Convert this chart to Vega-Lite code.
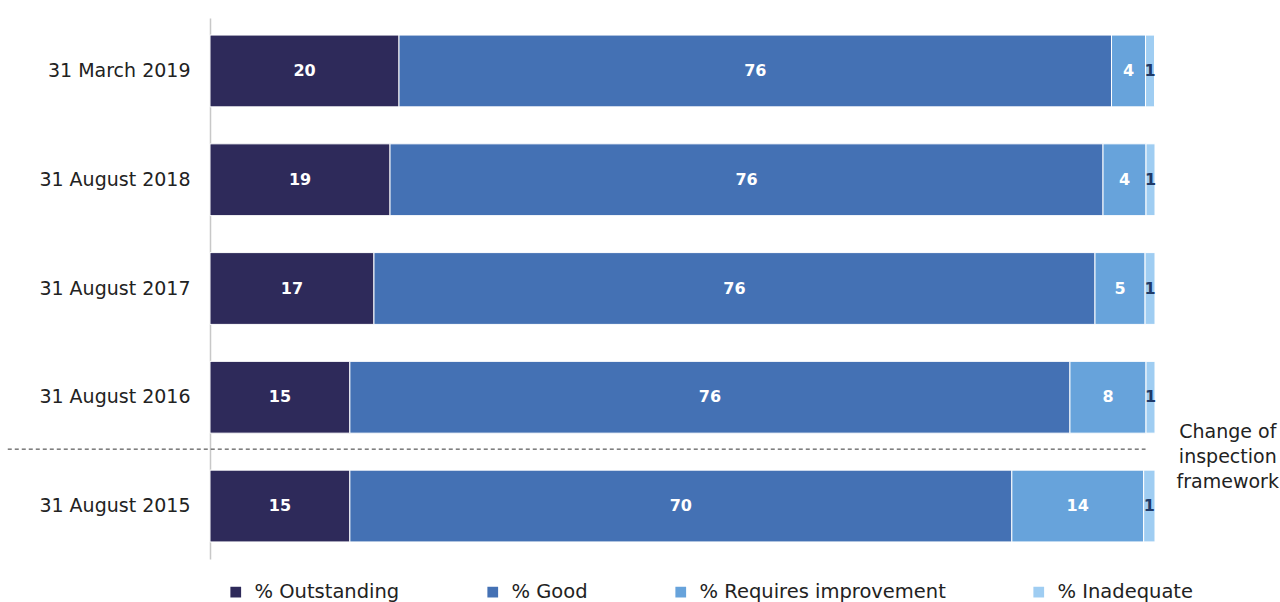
{
  "$schema": "https://vega.github.io/schema/vega-lite/v6.json",
  "width": 945,
  "height": 541,
  "autosize": {"type": "none"},
  "padding": {"left": 210, "top": 18, "right": 125, "bottom": 43},
  "background": "white",
  "config": {
    "view": {"stroke": null},
    "font": "DejaVu Sans"
  },
  "datasets": {
    "bars": [
      {"date": "31 March 2019", "rating": "% Outstanding", "idx": 1, "value": 20.0, "label": "20"},
      {"date": "31 March 2019", "rating": "% Good", "idx": 2, "value": 75.4, "label": "76"},
      {"date": "31 March 2019", "rating": "% Requires improvement", "idx": 3, "value": 3.6, "label": "4"},
      {"date": "31 March 2019", "rating": "% Inadequate", "idx": 4, "value": 0.95, "label": "1"},
      {"date": "31 August 2018", "rating": "% Outstanding", "idx": 1, "value": 19.05, "label": "19"},
      {"date": "31 August 2018", "rating": "% Good", "idx": 2, "value": 75.45, "label": "76"},
      {"date": "31 August 2018", "rating": "% Requires improvement", "idx": 3, "value": 4.55, "label": "4"},
      {"date": "31 August 2018", "rating": "% Inadequate", "idx": 4, "value": 0.95, "label": "1"},
      {"date": "31 August 2017", "rating": "% Outstanding", "idx": 1, "value": 17.35, "label": "17"},
      {"date": "31 August 2017", "rating": "% Good", "idx": 2, "value": 76.3, "label": "76"},
      {"date": "31 August 2017", "rating": "% Requires improvement", "idx": 3, "value": 5.3, "label": "5"},
      {"date": "31 August 2017", "rating": "% Inadequate", "idx": 4, "value": 1.05, "label": "1"},
      {"date": "31 August 2016", "rating": "% Outstanding", "idx": 1, "value": 14.8, "label": "15"},
      {"date": "31 August 2016", "rating": "% Good", "idx": 2, "value": 76.2, "label": "76"},
      {"date": "31 August 2016", "rating": "% Requires improvement", "idx": 3, "value": 8.05, "label": "8"},
      {"date": "31 August 2016", "rating": "% Inadequate", "idx": 4, "value": 0.95, "label": "1"},
      {"date": "31 August 2015", "rating": "% Outstanding", "idx": 1, "value": 14.8, "label": "15"},
      {"date": "31 August 2015", "rating": "% Good", "idx": 2, "value": 70.05, "label": "70"},
      {"date": "31 August 2015", "rating": "% Requires improvement", "idx": 3, "value": 13.95, "label": "14"},
      {"date": "31 August 2015", "rating": "% Inadequate", "idx": 4, "value": 1.2, "label": "1"}
    ],
    "divider": [
      {"date": "31 August 2015", "start": -21.4, "end": 99.0}
    ],
    "note": [
      {"date": "31 August 2015", "pos": 107.7, "text": "Change of\ninspection\nframework"}
    ]
  },
  "layer": [
    {
      "data": {"name": "bars"},
      "mark": {"type": "bar", "stroke": "white", "strokeWidth": 1},
      "encoding": {
        "y": {
          "field": "date", "type": "nominal",
          "sort": ["31 March 2019", "31 August 2018", "31 August 2017", "31 August 2016", "31 August 2015"],
          "scale": {"paddingInner": 0.34, "paddingOuter": 0.157},
          "axis": {
            "title": null, "ticks": false, "domainColor": "#c8c8c8", "domainWidth": 1.5,
            "labelFontSize": 19, "labelColor": "#222222", "labelPadding": 20, "labelFont": "DejaVu Sans"
          }
        },
        "x": {
          "field": "value", "type": "quantitative", "stack": "zero",
          "scale": {"domain": [0, 100], "nice": false},
          "axis": null
        },
        "order": {"field": "idx", "type": "quantitative"},
        "color": {
          "field": "rating", "type": "nominal",
          "scale": {
            "domain": ["% Outstanding", "% Good", "% Requires improvement", "% Inadequate"],
            "range": ["#2e2a5a", "#4471b4", "#67a3db", "#9fcdf2"]
          },
          "legend": {
            "title": null, "orient": "none", "direction": "horizontal", "columns": 4,
            "legendX": 16, "legendY": 564,
            "symbolType": "square", "symbolSize": 115, "symbolStrokeWidth": 0,
            "labelFontSize": 19.5, "labelColor": "#222222", "labelFont": "DejaVu Sans",
            "columnPadding": 83, "labelOffset": 9, "labelLimit": 400
          }
        }
      }
    },
    {
      "data": {"name": "bars"},
      "mark": {"type": "text", "fontWeight": "bold", "fontSize": 16, "font": "DejaVu Sans", "baseline": "middle", "align": "center"},
      "encoding": {
        "y": {"field": "date", "type": "nominal",
          "sort": ["31 March 2019", "31 August 2018", "31 August 2017", "31 August 2016", "31 August 2015"]},
        "x": {"field": "value", "type": "quantitative", "stack": "zero", "bandPosition": 0.5},
        "order": {"field": "idx", "type": "quantitative"},
        "text": {"field": "label"},
        "color": {
          "condition": {"test": "datum.rating === '% Inadequate'", "value": "#1f3a68"},
          "value": "white"
        }
      }
    },
    {
      "data": {"name": "divider"},
      "mark": {"type": "rule", "strokeDash": [4, 3], "color": "#333333", "strokeWidth": 1, "yOffset": -21},
      "encoding": {
        "y": {"field": "date", "type": "nominal", "bandPosition": 0,
          "sort": ["31 March 2019", "31 August 2018", "31 August 2017", "31 August 2016", "31 August 2015"]},
        "x": {"field": "start", "type": "quantitative"},
        "x2": {"field": "end"}
      }
    },
    {
      "data": {"name": "note"},
      "mark": {"type": "text", "fontSize": 19, "font": "DejaVu Sans", "color": "#222222", "align": "center", "baseline": "middle", "lineBreak": "\n", "lineHeight": 25, "yOffset": -38},
      "encoding": {
        "y": {"field": "date", "type": "nominal", "bandPosition": 0,
          "sort": ["31 March 2019", "31 August 2018", "31 August 2017", "31 August 2016", "31 August 2015"]},
        "x": {"field": "pos", "type": "quantitative"},
        "text": {"field": "text"}
      }
    }
  ]
}
